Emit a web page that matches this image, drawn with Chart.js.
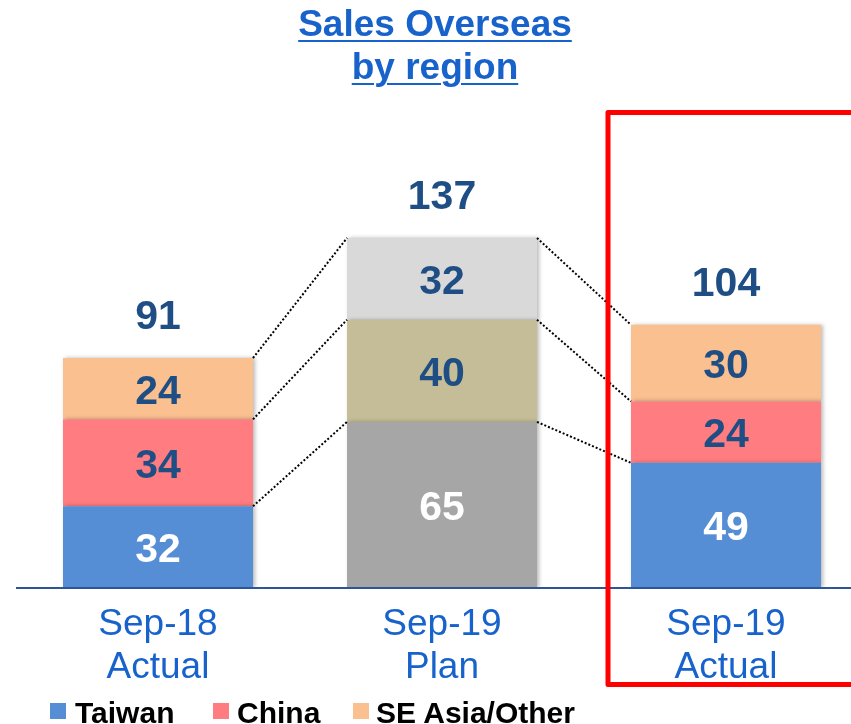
<!DOCTYPE html>
<html>
<head>
<meta charset="utf-8">
<script src="https://cdn.jsdelivr.net/npm/chart.js@4"></script>
<style>
html,body{margin:0;padding:0;overflow:hidden;background:#fff;width:851px;height:724px;}
#wrap{position:absolute;left:0;top:0;width:880px;height:724px;}
#title{position:absolute;left:0;width:870px;top:2px;text-align:center;font:bold 37px "Liberation Sans",Arial,sans-serif;line-height:43px;color:#1862CC;}
#title span{text-decoration:underline;text-decoration-thickness:2px;text-underline-offset:4px;}
.lg-box{position:absolute;width:16px;height:16px;top:703px;}
.lg-txt{position:absolute;top:698px;font:bold 30px "Liberation Sans",Arial,sans-serif;line-height:30px;color:#000;white-space:nowrap;}
</style>
</head>
<body>
<div id="wrap"><canvas id="c" width="880" height="724"></canvas></div>
<div id="title"><span>Sales Overseas</span><br><span>by region</span></div>
<div id="legend"></div>
<script>
const categories = [['Sep-18','Actual'],['Sep-19','Plan'],['Sep-19','Actual']];
const seriesNames = ['Taiwan','China','SE Asia/Other'];
const taiwan = [32,65,49];
const china = [34,40,24];
const seAsia = [24,32,30];
const totals = [91,137,104];

const taiwanColors = ['#558ED5','#A6A6A6','#558ED5'];
const chinaColors = ['#FF7C80','#C4BD97','#FF7C80'];
const seAsiaColors = ['#FAC090','#D9D9D9','#FAC090'];
const legendColors = ['#558ED5','#FF7C80','#FAC090'];
const navy = '#1F4E85';
const blue = '#1862CC';

// legend (HTML text)
const legendPos = [[50,75],[213,237],[353,376]];
const lg = document.getElementById('legend');
seriesNames.forEach((n,i)=>{
  const b=document.createElement('div');b.className='lg-box';b.style.left=legendPos[i][0]+'px';b.style.background=legendColors[i];lg.appendChild(b);
  const t=document.createElement('div');t.className='lg-txt';t.style.left=legendPos[i][1]+'px';t.textContent=n;lg.appendChild(t);
});

const overlay = {
  id:'overlay',
  beforeDatasetsDraw(chart){
    const ctx=chart.ctx;
    ctx.save();
    ctx.shadowColor='rgba(0,0,0,0.28)';
    ctx.shadowBlur=4;
    ctx.shadowOffsetX=2;
    ctx.shadowOffsetY=0;
  },
  afterDatasetsDraw(chart){
    const ctx=chart.ctx;
    ctx.restore();
    const x=chart.scales.x, y=chart.scales.y, area=chart.chartArea;
    const metas=[0,1,2].map(i=>chart.getDatasetMeta(i));
    ctx.save();
    // baseline
    ctx.strokeStyle='#2E5597';ctx.lineWidth=2;
    ctx.beginPath();ctx.moveTo(area.left,y.getPixelForValue(0));ctx.lineTo(area.right,y.getPixelForValue(0));ctx.stroke();
    // connectors
    ctx.strokeStyle='#000';ctx.lineWidth=2;ctx.setLineDash([2,2]);
    metas.forEach(m=>{
      for(let i=0;i<m.data.length-1;i++){
        const a=m.data[i], b=m.data[i+1];
        ctx.beginPath();
        ctx.moveTo(a.x+a.width/2, a.y);
        ctx.lineTo(b.x-b.width/2, b.y);
        ctx.stroke();
      }
    });
    ctx.setLineDash([]);
    // segment labels
    ctx.font='bold 41px "Liberation Sans", Arial, sans-serif';
    ctx.textAlign='center';ctx.textBaseline='alphabetic';
    metas.forEach((m,d)=>{
      m.data.forEach((el,i)=>{
        const v=chart.data.datasets[d].data[i];
        const cy=(el.y+el.base)/2;
        ctx.fillStyle=(d===0)?'#FFFFFF':navy;
        ctx.fillText(String(v), el.x, cy+15);
      });
    });
    // totals
    metas[2].data.forEach((el,i)=>{
      ctx.fillStyle=navy;
      ctx.fillText(String(totals[i]), el.x, el.y-29);
    });
    // category labels
    ctx.font='37px "Liberation Sans", Arial, sans-serif';
    ctx.fillStyle=blue;
    categories.forEach((c,i)=>{
      const px=x.getPixelForValue(i);
      c.forEach((line,j)=>ctx.fillText(line, px, 635+j*43));
    });
    // highlight rectangle
    const hx=x.getPixelForValue(2)-118;
    ctx.strokeStyle='#FF0000';ctx.lineWidth=5;ctx.lineJoin='round';
    ctx.beginPath();
    ctx.moveTo(900,112.5);ctx.lineTo(hx,112.5);ctx.lineTo(hx,684.5);ctx.lineTo(900,684.5);
    ctx.stroke();
    ctx.restore();
  }
};

new Chart(document.getElementById('c'),{
  type:'bar',
  data:{
    labels:categories,
    datasets:[
      {label:seriesNames[0],data:taiwan,backgroundColor:taiwanColors},
      {label:seriesNames[1],data:china,backgroundColor:chinaColors},
      {label:seriesNames[2],data:seAsia,backgroundColor:seAsiaColors}
    ]
  },
  options:{
    responsive:false,
    animation:false,
    devicePixelRatio:1,
    layout:{padding:{left:16,right:12,top:77,bottom:136}},
    datasets:{bar:{barPercentage:1,categoryPercentage:0.669,borderWidth:0}},
    scales:{
      x:{stacked:true,display:false},
      y:{stacked:true,display:false,min:0,max:200}
    },
    plugins:{legend:{display:false},tooltip:{enabled:false},title:{display:false}}
  },
  plugins:[overlay]
});
</script>
</body>
</html>
